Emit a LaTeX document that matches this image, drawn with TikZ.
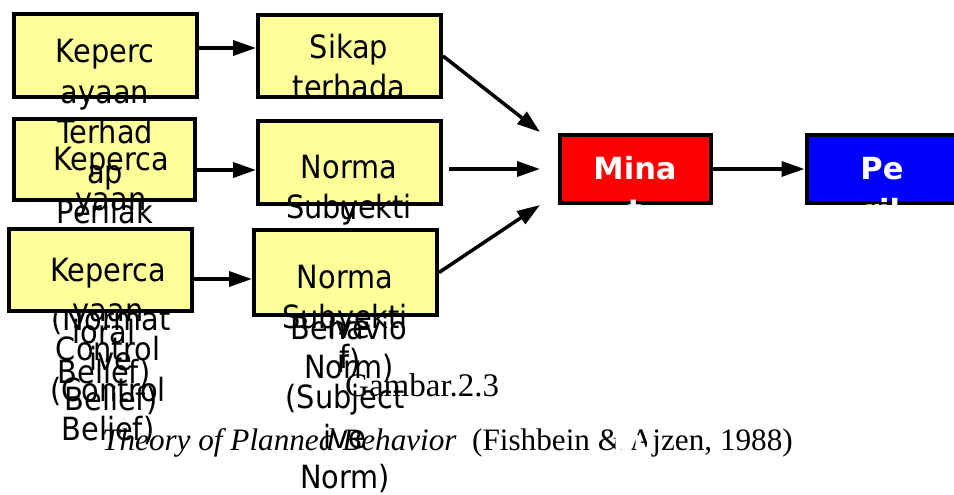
\documentclass[tikz,border=0pt]{standalone}
\usepackage{fontspec}
\newfontfamily\boxfont[FakeStretch=0.9]{DejaVu Sans}
\newfontfamily\labelfont{DejaVu Sans}
\newfontfamily\capfont{Liberation Serif}
\usetikzlibrary{arrows.meta}
\definecolor{boxyellow}{HTML}{FFFF99}
\definecolor{intentred}{HTML}{FF0000}
\definecolor{behavblue}{HTML}{0000FF}

\begin{document}
\begin{tikzpicture}[x=1pt,y=-1pt,
  stagebox/.style={draw=black, line width=4pt, fill=boxyellow, inner sep=0pt},
  colorbox/.style={draw=black, line width=4pt, inner sep=0pt,
    minimum width=151pt, minimum height=68pt},
  txt/.style={anchor=base, inner sep=0pt, font={\boxfont\fontsize{32}{38}\selectfont}},
  wtxt/.style={anchor=base, inner sep=0pt, text=white,
    font={\labelfont\bfseries\fontsize{30.5}{36}\selectfont}},
  link/.style={line width=3.5pt, -{Triangle[length=23pt,width=15pt]}},
  captxt/.style={anchor=base west, inner sep=0pt, font={\capfont\fontsize{31.2}{36}\selectfont}}]

\useasboundingbox (0,0) rectangle (954,495);
\clip (0,0) rectangle (954,495);

% --- belief column ---
\node[stagebox, minimum width=181pt, minimum height=81pt] (a2) at (104.5,159.5) {};
\node[txt] (a2l1) at (111,170) {Keperca};
\node[txt] (a2l2) at (111,210) {yaan};
\node[txt] (a2l3) at (111,330) {(Normat};
\node[txt] (a2l4) at (111,370) {ive};
\node[txt] (a2l5) at (111,410) {Belief)};

\node[stagebox, minimum width=183pt, minimum height=83pt] (a1) at (105.5,55.5) {};
\node[txt] (a1l1) at (105,63) {Keperc};
\node[txt] (a1l2) at (105,103) {ayaan};
\node[txt] (a1l3) at (105,143) {Terhad};
\node[txt] (a1l4) at (105,183) {ap};
\node[txt] (a1l5) at (105,223) {Perilak};
\node[txt] (a1l6) at (104,343) {ioral};
\node[txt] (a1l7) at (104,383) {Belief)};

\node[stagebox, minimum width=183pt, minimum height=82pt] (a3) at (100.5,270) {};
\node[txt] (a3l1) at (108,281) {Keperca};
\node[txt] (a3l2) at (108,321) {yaan};
\node[txt] (a3l3) at (108,360) {Control};
\node[txt] (a3l4) at (108,401) {(Control};
\node[txt] (a3l5) at (108,440) {Belief)};

% --- attitude / norm column ---
\node[stagebox, minimum width=183pt, minimum height=82pt] (b1) at (349.5,56) {};
\node[txt] (b1l1) at (349,59) {Sikap};
\node[txt] (b1l2) at (349,99) {terhada};
\node[txt] (b1l3) at (349,219) {u};
\node[txt] (b1l4) at (349,339) {Behavio};
\node[txt] (b1l5) at (349,372) {r)};

\node[stagebox, minimum width=183pt, minimum height=83pt] (b2) at (349.5,162.5) {};
\node[txt] (b2l1) at (349,178) {Norma};
\node[txt] (b2l2) at (349,218) {Subyekti};
\node[txt] (b2l3) at (349,338) {ive};
\node[txt] (b2l4) at (349,378) {Norm)};

\node[stagebox, minimum width=183pt, minimum height=85pt] (b3) at (345.5,272.5) {};
\node[txt] (b3l1) at (345,288) {Norma};
\node[txt] (b3l2) at (345,328) {Subyekti};
\node[txt] (b3l3) at (345,368) {f};
\node[txt] (b3l4) at (345,408) {(Subject};
\node[txt] (b3l5) at (345,448) {ive};
\node[txt] (b3l6) at (345,488) {Norm)};

% --- intention and behaviour ---
\node[colorbox, fill=intentred] (minat) at (635.5,169) {};
\node[wtxt] (minl1) at (635,179) {Mina};
\node[wtxt] (minl2) at (635,221) {t};

\node[colorbox, fill=behavblue] (perilaku) at (882,169) {};
\node[wtxt] (perl1) at (882,179) {Pe};
\node[wtxt] (perl2) at (882,221) {ril};

% --- connectors ---
\coordinate (in1) at (540,132);
\coordinate (in2) at (540,169);
\coordinate (in3) at (540,205);

\draw[link] ([yshift=7.5pt]a1.east) -- ([yshift=8pt]b1.west);
\draw[link] ([yshift=-10.5pt]a2.east) -- ([yshift=-7.5pt]b2.west);
\draw[link] ([yshift=-9pt]a3.east) -- ([yshift=-6.5pt]b3.west);
\draw[link] (b1.east) -- (in1);
\draw[link] ([xshift=6pt,yshift=-6.5pt]b2.east) -- (in2);
\draw[link] (b3.east) -- (in3);
\draw[link] (minat.east) -- (perilaku.west);

% --- caption ---
\node[captxt, font={\capfont\fontsize{33}{38}\selectfont}] (cap1) at (345,396) {Gambar.2.3};
\node[captxt] (cap2) at (102,450) {\itshape Theory of Planned Behavior\upshape\ \ (Fishbein \& Ajzen, 1988)};
\node[wtxt] (capover) at (634,452) {ku};
\end{tikzpicture}
\end{document}
